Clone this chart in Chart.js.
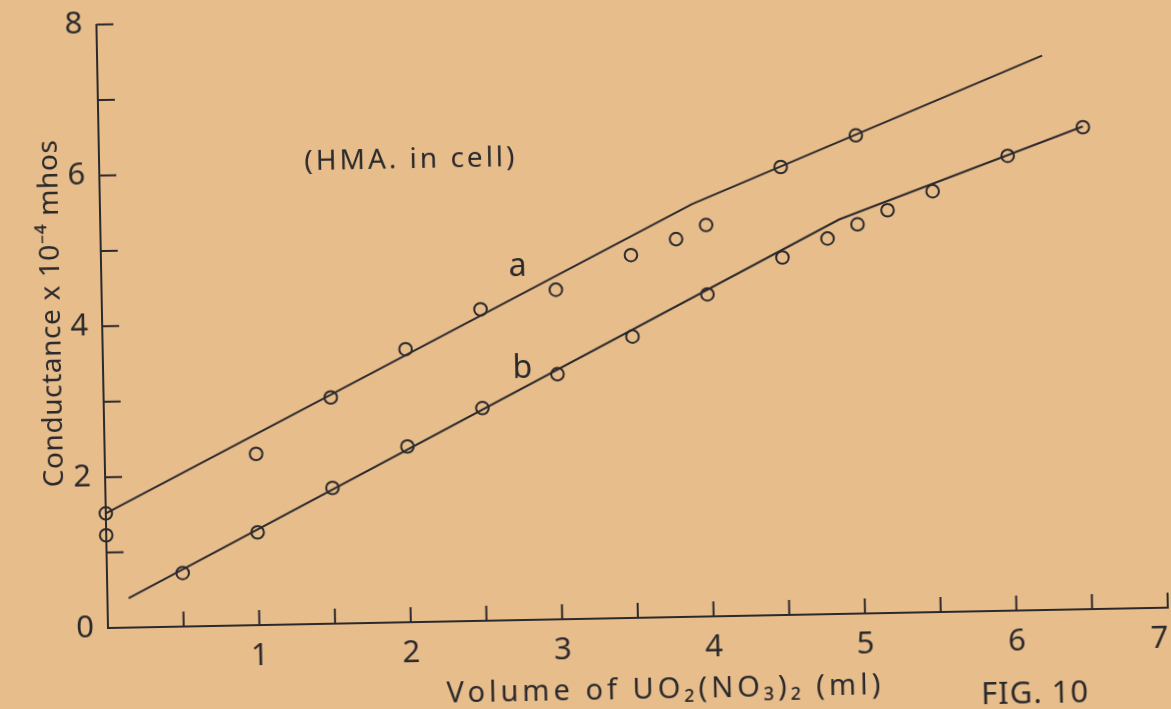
<!DOCTYPE html>
<html>
<head>
<meta charset="utf-8">
<script src="https://cdn.jsdelivr.net/npm/chart.js@4.4.1/dist/chart.umd.min.js"></script>
<style>
  html, body { margin: 0; padding: 0; width: 1171px; height: 709px; overflow: hidden; background: #e8bd8c; }
  #wrap { position: absolute; left: 0; top: 0; width: 1200px; height: 760px;
          transform: rotate(-1.1deg); transform-origin: 108px 628px; }
</style>
</head>
<body>
<div id="wrap"><canvas id="c" width="1200" height="760"></canvas></div>
<script>
// Conductometric titration with UO2(NO3)2, HMA in cell
// Curve a: measured points
const volumeA = [0, 1, 1.5, 2, 2.5, 3, 3.5, 3.8, 4, 4.5, 5];
const conductA = [1.52, 2.27, 3.00, 3.62, 4.13, 4.37, 4.81, 5.01, 5.19, 5.94, 6.34];
// Curve b: measured points
const volumeB = [0, 0.5, 1, 1.5, 2, 2.5, 3, 3.5, 4, 4.5, 4.8, 5, 5.2, 5.5, 6, 6.5];
const conductB = [1.23, 0.71, 1.23, 1.80, 2.33, 2.82, 3.25, 3.73, 4.27, 4.74, 4.98, 5.16, 5.34, 5.58, 6.03, 6.39];
// Straight-line fits with their break points
const fitVolumeA = [0, 3.91, 6.24];
const fitConductA = [1.52, 5.47, 7.35];
const fitVolumeB = [0.14, 4.88, 6.5];
const fitConductB = [0.39, 5.23, 6.40];
// Axis ticks
const xTicks = [0, 0.5, 1, 1.5, 2, 2.5, 3, 3.5, 4, 4.5, 5, 5.5, 6, 6.5, 7];
const xTickLabels = ['', '', '1', '', '2', '', '3', '', '4', '', '5', '', '6', '', '7'];
const yTicks = [0, 1, 2, 3, 4, 5, 6, 7, 8];
const yTickLabels = ['0', '', '2', '', '4', '', '6', '', '8'];

const INK = '#2a292b';
const FONT = '"Noto Sans", sans-serif';

const toPoints = (xs, ys) => xs.map((x, i) => ({ x: x, y: ys[i] }));

function spacedText(ctx, text, x, y, size, spacing) {
  ctx.font = size + 'px ' + FONT;
  ctx.letterSpacing = spacing + 'px';
  ctx.fillText(text, x + spacing / 2, y);
  ctx.letterSpacing = '0px';
}

// Inward tick marks, axis titles and hand-lettered notes
const notes = {
  id: 'notes',
  afterDatasetsDraw(chart) {
    const { ctx, chartArea: area, scales: { x, y } } = chart;
    ctx.save();
    ctx.strokeStyle = INK;
    ctx.lineWidth = 2;
    ctx.beginPath();
    xTicks.forEach(v => {
      if (v === 0) return;
      const px = x.getPixelForValue(v);
      ctx.moveTo(px, area.bottom);
      ctx.lineTo(px, area.bottom - 15);
    });
    yTicks.forEach(v => {
      if (v === 0) return;
      const py = y.getPixelForValue(v);
      ctx.moveTo(area.left, py);
      ctx.lineTo(area.left + 17, py);
    });
    ctx.stroke();

    ctx.fillStyle = INK;
    ctx.textAlign = 'center';
    ctx.textBaseline = 'middle';
    spacedText(ctx, '(HMA. in cell)', x.getPixelForValue(2.05), y.getPixelForValue(6.12), 28, 3);
    spacedText(ctx, 'a', x.getPixelForValue(2.75), y.getPixelForValue(4.68), 32, 0);
    spacedText(ctx, 'b', x.getPixelForValue(2.77), y.getPixelForValue(3.33), 32, 0);

    spacedText(ctx, 'Volume of UO\u2082(NO\u2083)\u2082 (ml)', x.getPixelForValue(3.66), area.bottom + 73, 29, 4);
    spacedText(ctx, 'FIG. 10', x.getPixelForValue(6.11), area.bottom + 84, 31, 1);

    ctx.save();
    ctx.translate(area.left - 50, y.getPixelForValue(4.18));
    ctx.rotate(-Math.PI / 2);
    spacedText(ctx, 'Conductance x 10\u207B\u2074 mhos', 0, 0, 28, 0.6);
    ctx.restore();
    ctx.restore();
  }
};

const lineStyle = {
  showLine: true, pointRadius: 0, borderColor: INK, borderWidth: 2,
  fill: false, tension: 0, clip: false
};
const dotStyle = {
  showLine: false, pointRadius: 6.3, pointHoverRadius: 6.3, pointBorderWidth: 2,
  pointBorderColor: INK, pointBackgroundColor: 'rgba(0,0,0,0)', clip: false
};

new Chart(document.getElementById('c'), {
  type: 'scatter',
  data: {
    datasets: [
      Object.assign({ label: 'a fit', data: toPoints(fitVolumeA, fitConductA) }, lineStyle),
      Object.assign({ label: 'b fit', data: toPoints(fitVolumeB, fitConductB) }, lineStyle),
      Object.assign({ label: 'a', data: toPoints(volumeA, conductA) }, dotStyle),
      Object.assign({ label: 'b', data: toPoints(volumeB, conductB) }, dotStyle)
    ]
  },
  options: {
    responsive: false,
    animation: false,
    devicePixelRatio: 1,
    layout: { padding: { top: 22, right: 32, bottom: 0, left: 0 } },
    plugins: { legend: { display: false }, tooltip: { enabled: false } },
    scales: {
      x: {
        type: 'linear', min: 0, max: 7,
        afterFit(s) { s.height = 132; },
        afterBuildTicks(s) { s.ticks = xTicks.map(v => ({ value: v })); },
        grid: { display: false },
        border: { display: true, color: INK, width: 2 },
        ticks: {
          autoSkip: false, maxRotation: 0, padding: 5, align: 'inner',
          color: INK, font: { family: FONT, size: 31 },
          callback: (v) => xTickLabels[xTicks.indexOf(v)] ?? ''
        }
      },
      y: {
        type: 'linear', min: 0, max: 8,
        afterFit(s) { s.width = 108; },
        afterBuildTicks(s) { s.ticks = yTicks.map(v => ({ value: v })); },
        grid: { display: false },
        border: { display: true, color: INK, width: 2 },
        ticks: {
          autoSkip: false, padding: 6,
          color: INK, font: { family: FONT, size: 31 },
          callback: (v) => yTickLabels[yTicks.indexOf(v)] ?? ''
        }
      }
    }
  },
  plugins: [notes]
});
</script>
</body>
</html>
